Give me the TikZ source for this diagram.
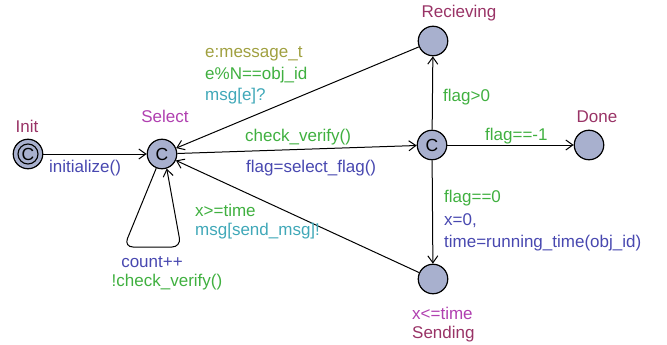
\documentclass[tikz,border=0pt]{standalone}
\usepackage{fontspec}
\setmainfont{Liberation Sans}
\usetikzlibrary{arrows.meta}
\definecolor{locfill}{HTML}{A8B0CE}
\definecolor{locname}{HTML}{993366}
\definecolor{invcol}{HTML}{B040B0}
\definecolor{guardcol}{HTML}{40B040}
\definecolor{synccol}{HTML}{40A8B8}
\definecolor{updcol}{HTML}{4848B0}
\definecolor{selcol}{HTML}{A0A040}
\begin{document}
\begin{tikzpicture}[x=1pt,y=-1pt,
  loc/.style={circle,draw,fill=locfill,line width=1.2pt,minimum size=29.5pt,inner sep=0pt,font=\fontsize{17.5}{17}\selectfont},
  inner/.style={circle,draw,line width=1.1pt,minimum size=20pt,inner sep=0pt,font=\fontsize{17.5}{17}\selectfont},
  lbl/.style={inner sep=0pt,anchor=west,font=\fontsize{17}{18}\selectfont},
  clbl/.style={inner sep=0pt,font=\fontsize{17}{18}\selectfont},
  edge/.style={line width=1pt,-{Straight Barb[length=7pt,width=10pt]}}]
\useasboundingbox (0,0) rectangle (667,345);
% locations
\node[loc] (init) at (28,154) {};
\node[inner] (initc) at (init) {C};
\node[loc] (select) at (162,154) {C};
\node[loc] (mid) at (432,145) {C};
\node[loc] (recv) at (433,41) {};
\node[loc] (done) at (589,145) {};
\node[loc] (send) at (433,279) {};
% location names and invariants
\node[clbl,text=locname] (ninit) at (27,126) {Init};
\node[clbl,text=invcol] (nselect) at (165,116) {Select};
\node[clbl,text=locname] (nrecv) at (459,13) {Recieving};
\node[clbl,text=locname] (ndone) at (597,117) {Done};
\node[lbl,text=invcol] (isend) at (412,313) {x<=time};
\node[lbl,text=locname] (nsend) at (412,334) {Sending};
% edges
\draw[edge] (init) -- (select);
\draw[edge] (recv) -- (select);
\draw[edge] (select) -- (mid);
\draw[edge] (mid) -- (recv);
\draw[edge] (mid) -- (done);
\draw[edge] (mid) -- (send);
\draw[edge] (send) -- (select);
\coordinate (la) at (124,247);
\coordinate (lb) at (181,247);
\draw[edge,rounded corners=9pt] (select.248) -- (la) -- (lb) -- (select.288);
% edge labels
\node[lbl,text=updcol] (u1) at (49,168) {initialize()};
\node[lbl,text=selcol] (s2) at (205,54) {e:message\_t};
\node[lbl,text=guardcol] (g2) at (205,75) {e\%N==obj\_id};
\node[lbl,text=synccol] (y2) at (205,96) {msg[e]?};
\node[lbl,text=guardcol] (g3) at (245,137) {check\_verify()};
\node[lbl,text=updcol] (u3) at (246,168) {flag=select\_flag()};
\node[lbl,text=guardcol] (g4) at (443,97) {flag>0};
\node[lbl,text=guardcol] (g5) at (485,136) {flag==-1};
\node[lbl,text=guardcol] (g6) at (444,198) {flag==0};
\node[lbl,text=updcol] (u6a) at (444,221) {x=0,};
\node[lbl,text=updcol] (u6b) at (444,243) {time=running\_time(obj\_id)};
\node[lbl,text=guardcol] (g7) at (195,210) {x>=time};
\node[lbl,text=synccol] (y7) at (195,231) {msg[send\_msg]!};
\node[clbl,text=updcol] (u8) at (152,262) {count++};
\node[clbl,text=guardcol] (g8) at (167,282) {!check\_verify()};
\end{tikzpicture}
\end{document}
